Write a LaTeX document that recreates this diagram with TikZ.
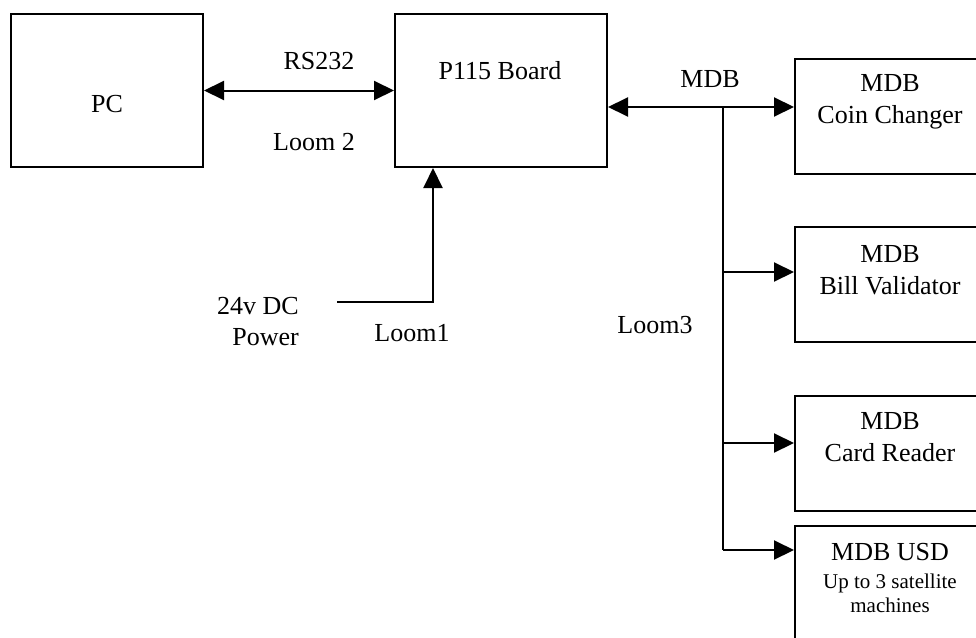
\documentclass[tikz,border=0pt]{standalone}
\usepackage{fontspec}
\setmainfont{Liberation Serif}
\usetikzlibrary{arrows.meta, positioning, calc}

\begin{document}
\begin{tikzpicture}[
    x=1pt, y=-1pt,
    font=\fontsize{26}{32}\selectfont,
    blk/.style={rectangle, draw, line width=2pt, inner sep=0pt},
    unit/.style={blk, minimum width=190pt, minimum height=115pt},
    lbl/.style={inner sep=0pt, align=center},
    arr/.style={-{Triangle[length=20pt, width=19pt]}, line width=2pt},
    dbl/.style={{Triangle[length=20pt, width=19pt]}-{Triangle[length=20pt, width=19pt]}, line width=2pt}
]
\useasboundingbox (0,0) rectangle (976,637);
\clip (0,0) rectangle (976,637);

% main boxes
\node[blk, minimum width=192pt, minimum height=153pt] (pc) at (107,90.5) {};
\node[lbl] (pctxt) at (107,104) {PC};
\node[blk, minimum width=212pt, minimum height=153pt] (board) at (501,90.5) {};
\node[lbl] (boardtxt) at (500,71) {P115 Board};

% peripherals on the bus
\node[unit] (coin) at (890,116.5) {};
\node[unit] (bill) at (890,284.5) {};
\node[unit] (card) at (890,453.5) {};
\node[unit] (usd)  at (890,583.5) {};
\node[lbl] (cointxt) at (890,102) {MDB\\Coin Changer};
\node[lbl] (billtxt) at (890,270) {MDB\\Bill Validator};
\node[lbl] (cardtxt) at (890,437) {MDB\\Card Reader};
\node[lbl] (usdtxt)  at (890,552) {MDB USD};
\node[lbl, font=\fontsize{21}{24}\selectfont] (usdsub) at (890,593.5) {Up to 3 satellite\\machines};

% RS232 link
\draw[dbl] (pc.east) -- (board.west);
\node[lbl] (rs) at (319,61) {RS232};
\node[lbl] (loomtwo) at (314,142) {Loom 2};

% MDB bus
\coordinate (tap) at (723,107);
\coordinate (tapend) at (723,550);
\draw[dbl] (board.east |- tap) -- (coin.west |- tap);
\draw[line width=2pt] (tap) -- (tapend);
\draw[arr] (tap |- 0,272) -- (bill.west |- 0,272);
\draw[arr] (tap |- 0,443) -- (card.west |- 0,443);
\draw[arr] (tapend) -- (usd.west |- tapend);
\node[lbl] (mdb) at (710,79) {MDB};
\node[lbl] (loomthree) at (655,325) {Loom3};

% power feed
\coordinate (pwr) at (337,302);
\draw[arr] (pwr) -| ($(board.south west)+(39,0)$);
\node[lbl, align=right, anchor=east, font=\fontsize{26}{31}\selectfont] (pwrtxt) at (299,322) {24v DC\\Power};
\node[lbl] (loomone) at (412,333) {Loom1};
\end{tikzpicture}
\end{document}
